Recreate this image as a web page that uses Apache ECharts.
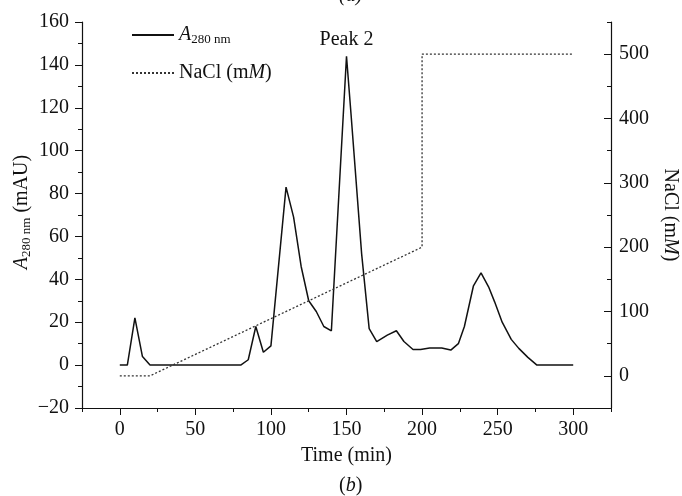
<!DOCTYPE html>
<html>
<head>
<meta charset="utf-8">
<script src="https://cdn.jsdelivr.net/npm/echarts@6/dist/echarts.min.js"></script>
<style>html,body{margin:0;padding:0;background:#fff;}#c{width:682px;height:496px;}</style>
</head>
<body>
<div id="c"></div>
<script>
// Data
const timeA = [0,5,10,15,20,80,85,90,95,100,110,115,120,125,130,135,140,150,153,160,165,170,177,183,188,194,199,205,213,219,224,228,234,239,244,248,253,259,264,270,276,300];
const a280 = [0,0,22,4,0,0,2.5,18,6,9,83,69,46,30,25,18,16,144,117,52,17,11,14,16,11,7.3,7.3,8,8,7,10,18,37,43,36.5,29.5,20,12,7.8,3.6,0,0];
const timeNaCl = [0,20,200,200,300];
const nacl = [0,0,200,500,500];
const xMajorTicks = [0,50,100,150,200,250,300];
const xMinorTicks = [-25,25,75,125,175,225,275,325];
const rightMajorTicks = [0,100,200,300,400,500];
const rightMinorTicks = [-50,50,150,250,350,450,550];

const FONT = 'Liberation Serif';
const FS = 20;
const black = '#111';
const fmtNum = v => (v < 0 ? '\u2212' + Math.abs(v) : String(v));

const chart = echarts.init(document.getElementById('c'), null, {renderer: 'canvas'});
const richA = {
  i: {fontFamily: FONT, fontSize: FS, fontStyle: 'italic', color: black},
  s: {fontFamily: FONT, fontSize: 13, color: black, padding: [9, 0, 0, 0]},
  n: {fontFamily: FONT, fontSize: FS, color: black},
  m: {fontFamily: FONT, fontSize: FS, fontStyle: 'italic', color: black}
};
const richG = {
  i: {fontFamily: FONT, fontSize: FS, fontStyle: 'italic', fill: black},
  s: {fontFamily: FONT, fontSize: 13, fill: black, padding: [9, 0, 0, 0]},
  n: {fontFamily: FONT, fontSize: FS, fill: black},
  m: {fontFamily: FONT, fontSize: FS, fontStyle: 'italic', fill: black}
};
const lineStyleAxis = {show: true, onZero: false, lineStyle: {color: black, width: 1.2}};
const option = {
  animation: false,
  backgroundColor: '#fff',
  grid: {left: 82, right: 71, top: 22, bottom: 88, outerBoundsMode: 'none', containLabel: false},
  legend: {
    orient: 'vertical', left: 126, top: 20, itemWidth: 42, itemHeight: 14, itemGap: 17,
    itemStyle: {opacity: 0},
    textStyle: {fontFamily: FONT, fontSize: FS, color: black, rich: richA},
    formatter: name => name === 'A280' ? '{i|A}{s|280 nm}' : '{n|NaCl (m}{m|M}{n|)}',
    data: ['A280', 'NaCl']
  },
  xAxis: [
    {
      type: 'value', min: -25, max: 325, position: 'bottom',
      axisLine: lineStyleAxis, splitLine: {show: false},
      name: 'Time (min)', nameLocation: 'middle', nameGap: 38,
      nameTextStyle: {fontFamily: FONT, fontSize: FS, color: black},
      axisTick: {show: true, length: 7, lineStyle: {color: black}, customValues: xMajorTicks},
      axisLabel: {fontFamily: FONT, fontSize: FS, color: black, margin: 12, customValues: xMajorTicks}
    },
    {
      type: 'value', min: -25, max: 325, position: 'bottom', gridIndex: 0,
      axisLine: {show: false, onZero: false}, splitLine: {show: false}, axisLabel: {show: false},
      axisTick: {show: true, length: 4, lineStyle: {color: black}, customValues: xMinorTicks}
    }
  ],
  yAxis: [
    {
      type: 'value', min: -20, max: 160, interval: 20, position: 'left',
      axisLine: lineStyleAxis, splitLine: {show: false},
      axisTick: {show: true, length: 7, lineStyle: {color: black}},
      minorTick: {show: true, splitNumber: 2, length: 4, lineStyle: {color: black}},
      axisLabel: {fontFamily: FONT, fontSize: FS, color: black, margin: 13, formatter: fmtNum}
    },
    {
      type: 'value', min: -50, max: 550, position: 'right',
      axisLine: lineStyleAxis, splitLine: {show: false},
      name: '{n|NaCl (m}{m|M}{n|)}', nameLocation: 'middle', nameGap: 46, nameRotate: -90,
      nameTextStyle: {rich: richA, fontFamily: FONT, fontSize: FS, color: black},
      axisTick: {show: true, inside: true, length: 7, lineStyle: {color: black}, customValues: rightMajorTicks},
      axisLabel: {fontFamily: FONT, fontSize: FS, color: black, margin: 8, customValues: rightMajorTicks}
    },
    {
      type: 'value', min: -50, max: 550, position: 'right',
      axisLine: {show: false, onZero: false}, splitLine: {show: false}, axisLabel: {show: false},
      axisTick: {show: true, inside: true, length: 4, lineStyle: {color: black}, customValues: rightMinorTicks}
    }
  ],
  series: [
    {
      name: 'A280', type: 'line', xAxisIndex: 0, yAxisIndex: 0, symbol: 'none',
      lineStyle: {color: black, width: 1.5}, itemStyle: {color: black},
      data: timeA.map((t, i) => [t, a280[i]]),
      markPoint: {
        symbol: 'circle', symbolSize: 1, itemStyle: {color: 'transparent'},
        label: {show: true, position: 'top', distance: 6, formatter: 'Peak 2', fontFamily: FONT, fontSize: FS, color: black},
        data: [{coord: [timeA[17], a280[17]]}]
      }
    },
    {
      name: 'NaCl', type: 'line', xAxisIndex: 0, yAxisIndex: 1, symbol: 'none',
      lineStyle: {color: '#333', width: 1.3, type: [2, 2]}, itemStyle: {color: '#333'},
      data: timeNaCl.map((t, i) => [t, nacl[i]])
    }
  ],
  graphic: [
    {type: 'text', x: 22, y: 212, rotation: Math.PI / 2, style: {
      text: '{i|A}{s|280 nm}{n| (mAU)}', rich: richG, fontFamily: FONT, fontSize: FS, fill: black,
      align: 'center', verticalAlign: 'middle'
    }},
    {type: 'text', left: 339, top: -14, style: {text: '(a)', fontFamily: FONT, fontSize: FS, fontStyle: 'italic', fill: black}},
    {type: 'text', left: 339, top: 476, style: {
      text: '{n|(}{m|b}{n|)}', fontFamily: FONT, fontSize: FS, fill: black, rich: richG
    }}
  ]
};
chart.setOption(option);
</script>
</body>
</html>
